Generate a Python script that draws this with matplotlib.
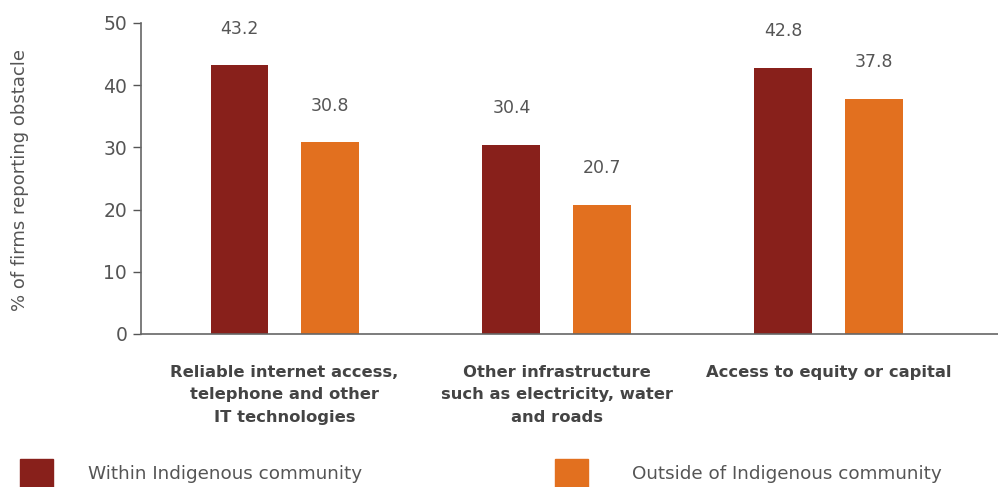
import numpy as np
import matplotlib.pyplot as plt
from matplotlib.patches import Rectangle

categories = ['Reliable internet access,\ntelephone and other\nIT technologies',
              'Other infrastructure\nsuch as electricity, water\nand roads',
              'Access to equity or capital']
within = [43.2, 30.4, 42.8]
outside = [30.8, 20.7, 37.8]
series_names = ['Within Indigenous community', 'Outside of Indigenous community']
y_ticks = [0, 10, 20, 30, 40, 50]

dark_red = '#88201B'
orange = '#E2701F'
grey = '#555555'

plt.rcParams['font.family'] = ['DejaVu Sans']

fig = plt.figure(figsize=(9.98, 4.87), dpi=100)
ax = fig.add_axes([0.1413, 0.3142, 0.8587, 0.6386])

x = np.arange(len(categories))
w = 0.213
off = 0.166
b1 = ax.bar(x - off, within, w, color=dark_red)
b2 = ax.bar(x + off, outside, w, color=orange)

for bars, vals in ((b1, within), (b2, outside)):
    for r, v in zip(bars, vals):
        ax.annotate(f'{v:.1f}', (r.get_x() + r.get_width() / 2, v),
                    xytext=(0, 20), textcoords='offset points',
                    ha='center', va='bottom', fontsize=12.5, color=grey)

ax.set_xlim(-0.528, 2.623)
ax.set_ylim(0, 50)
ax.set_yticks(y_ticks)
ax.tick_params(axis='y', direction='out', length=6, width=1, colors=grey,
               labelsize=13.5, pad=4)
ax.tick_params(axis='x', length=0, pad=22)
ax.set_xticks(x)
ax.set_xticklabels(categories, fontsize=11.8, fontweight='bold', color='#444444',
                   linespacing=1.65, va='top')
for s in ('top', 'right'):
    ax.spines[s].set_visible(False)
for s in ('left', 'bottom'):
    ax.spines[s].set_color('#666666')
    ax.spines[s].set_linewidth(1.2)

fig.text(0.02, 0.63, '% of firms reporting obstacle', rotation=90,
         ha='center', va='center', fontsize=13, color=grey)

# legend drawn in figure coordinates
for (sx, tx), col, name in zip(((20, 88), (555, 632)), (dark_red, orange), series_names):
    fig.patches.append(Rectangle((sx / 998, 0), 33 / 998, 28 / 487,
                                 transform=fig.transFigure, color=col))
    fig.text(tx / 998, 1 - 474 / 487, name, ha='left', va='center',
             fontsize=13.2, color=grey)

fig.savefig('out.png', dpi=100)
